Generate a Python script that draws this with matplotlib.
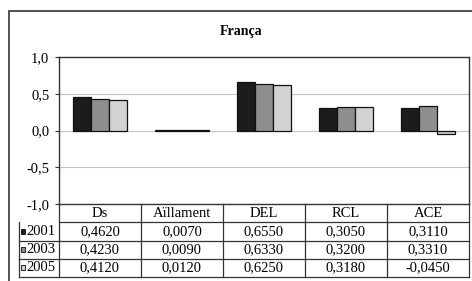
import numpy as np
import matplotlib.pyplot as plt
from matplotlib.patches import Rectangle
from matplotlib.transforms import blended_transform_factory
from matplotlib.ticker import FuncFormatter

plt.rcParams['font.family'] = ['Liberation Serif', 'DejaVu Serif']

categories = ["Ds", "Aïllament", "DEL", "RCL", "ACE"]
years = ["2001", "2003", "2005"]
v2001 = [0.4620, 0.0070, 0.6550, 0.3050, 0.3110]
v2003 = [0.4230, 0.0090, 0.6330, 0.3200, 0.3310]
v2005 = [0.4120, 0.0120, 0.6250, 0.3180, -0.0450]
series = [v2001, v2003, v2005]
colors = ["#1c1c1c", "#8e8e8e", "#d2d2d2"]
fs = 10.5

fig = plt.figure(figsize=(4.72, 2.81), dpi=100)
# outer chart frame (cropped on right/bottom)
fig.patches.append(Rectangle((9 / 472, -0.05), 1.2, 1 - 11 / 281 + 0.05, transform=fig.transFigure,
                             fill=False, edgecolor="#333333", linewidth=1.2))
fig.text(241 / 472, 1 - 32 / 281, "França", ha="center", va="center", fontsize=10, fontweight="bold")

ax = fig.add_axes([59 / 472, (281 - 204) / 281, 410 / 472, 147 / 281])

x = np.arange(len(categories))
w = 0.223
for i, (vals, c) in enumerate(zip(series, colors)):
    ax.bar(x + (i - 1) * w, vals, w, color=c, edgecolor="#111111", linewidth=0.9, zorder=3)

ax.set_xlim(-0.5, len(categories) - 0.5)
ax.set_ylim(-1.0, 1.0)
ax.set_yticks([-1.0, -0.5, 0.0, 0.5, 1.0])
ax.yaxis.set_major_formatter(FuncFormatter(lambda v, p: f"{v:.1f}".replace(".", ",")))
ax.set_xticks([])
ax.tick_params(axis="y", length=3, width=0.8, labelsize=fs, color="#333333", pad=4)
ax.grid(axis="y", color="#c4c4c4", linewidth=0.8, zorder=0)
for s in ax.spines.values():
    s.set_color("#333333")
    s.set_linewidth(1.0)

# data table drawn below the axes: x in data units, y in axes fraction
tr = blended_transform_factory(ax.transData, ax.transAxes)
rh = 18.25 / 147
lab_left = -0.5 - 40 / 82
line_kw = dict(color="#333333", linewidth=0.9, transform=tr, clip_on=False)

# horizontal lines
ax.plot([-0.5, len(categories) - 0.5], [-rh, -rh], **line_kw)
for r in range(2, 5):
    ax.plot([lab_left, len(categories) - 0.5], [-r * rh, -r * rh], **line_kw)
# vertical lines
for k in range(len(categories) + 1):
    ax.plot([k - 0.5, k - 0.5], [0, -4 * rh], **line_kw)
ax.plot([lab_left, lab_left], [-rh, -4 * rh], **line_kw)

for k, cat in enumerate(categories):
    ax.text(k, -0.5 * rh, cat, transform=tr, ha="center", va="center", fontsize=fs)
for r, (yr, vals, c) in enumerate(zip(years, series, colors)):
    yc = -(r + 1.5) * rh
    for k, v in enumerate(vals):
        ax.text(k, yc, f"{v:.4f}".replace(".", ","), transform=tr, ha="center", va="center", fontsize=fs)
    ax.text(lab_left + 7 / 82, yc, yr, transform=tr, ha="left", va="center", fontsize=fs)
    ax.add_patch(Rectangle((lab_left + 1.5 / 82, yc - 2.5 / 147), 4.5 / 82, 5 / 147, transform=tr,
                           facecolor=c, edgecolor="#222222", linewidth=0.7, clip_on=False))

fig.savefig("out.png", dpi=100)
